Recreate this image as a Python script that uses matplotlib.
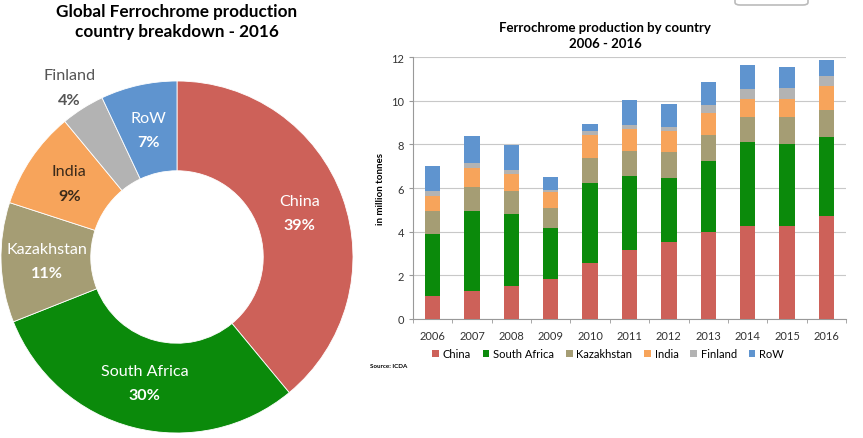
import matplotlib.pyplot as plt
import numpy as np
from matplotlib.patches import FancyBboxPatch

plt.rcParams['font.family'] = ['Lato', 'DejaVu Sans']

# pie data (2016 share, %)
pie_labels = ['China', 'South Africa', 'Kazakhstan', 'India', 'Finland', 'RoW']
pie_share = [39, 30, 11, 9, 4, 7]

# bar data (million tonnes)
years = ['2006', '2007', '2008', '2009', '2010', '2011', '2012', '2013', '2014', '2015', '2016']
china = [1.04, 1.30, 1.50, 1.83, 2.55, 3.15, 3.51, 4.00, 4.27, 4.24, 4.73]
south_africa = [2.85, 3.63, 3.31, 2.32, 3.69, 3.41, 2.96, 3.24, 3.82, 3.79, 3.59]
kazakhstan = [1.04, 1.12, 1.04, 0.95, 1.15, 1.13, 1.16, 1.17, 1.15, 1.21, 1.24]
india = [0.71, 0.87, 0.81, 0.70, 1.02, 1.00, 0.98, 1.04, 0.82, 0.82, 1.11]
finland = [0.20, 0.24, 0.18, 0.11, 0.19, 0.18, 0.18, 0.34, 0.46, 0.52, 0.44]
row = [1.15, 1.21, 1.11, 0.59, 0.35, 1.15, 1.07, 1.05, 1.11, 0.98, 0.75]

colors = ['#cd6159', '#0b8a0b', '#a59d74', '#f7a45b', '#b3b3b3', '#5f94cf']
label_colors = ['white', 'white', 'white', '#3a2a1a', '#555555', 'white']

W, H = 863, 439
fig = plt.figure(figsize=(W / 100, H / 100), dpi=100)

# ---- donut ----
cx, cy, r = 177, 258, 176
half = 182
axp = fig.add_axes([(cx - half) / W, (H - cy - half) / H, 2 * half / W, 2 * half / H])
wedges, _ = axp.pie(pie_share, colors=colors, startangle=90, counterclock=False,
                    wedgeprops=dict(width=0.51, edgecolor='white', linewidth=0.6))
axp.set_xlim(-half / r, half / r)
axp.set_ylim(-half / r, half / r)
axp.set_aspect('equal')
axp.axis('off')

for w, lab, pct, lc in zip(wedges, pie_labels, pie_share, label_colors):
    ang = np.deg2rad((w.theta1 + w.theta2) / 2)
    dist = 1.14 if lab == 'Finland' else 0.74
    x, y = dist * np.cos(ang), dist * np.sin(ang)
    axp.text(x, y + 0.07, lab, ha='center', va='center', color=lc, fontsize=11.6)
    axp.text(x, y - 0.07, '%d%%' % pct, ha='center', va='center', color=lc,
             fontsize=11.6, fontweight='bold')

fig.text(177 / W, 1 - 4 / H, 'Global Ferrochrome production\ncountry breakdown - 2016',
         ha='center', va='top', fontsize=12.3, fontweight='bold', linespacing=1.3)

# ---- stacked bars ----
ax = fig.add_axes([413 / W, 1 - 320 / H, (846 - 413) / W, (320 - 58) / H])
series = [china, south_africa, kazakhstan, india, finland, row]
x = np.arange(len(years))
bottom = np.zeros(len(years))
for vals, lab, c in zip(series, pie_labels, colors):
    ax.bar(x, vals, bottom=bottom, width=0.39, color=c, label=lab, zorder=3)
    bottom += np.array(vals)

ax.set_xlim(-0.5, len(years) - 0.5)
ax.set_ylim(0, 12)
ax.set_yticks(range(0, 13, 2))
ax.set_xticks(x)
ax.set_xticklabels(years)
ax.set_xticks(np.arange(-0.5, len(years), 1), minor=True)
ax.tick_params(axis='x', which='major', length=0, pad=8, labelsize=8, colors='#333333')
ax.tick_params(axis='x', which='minor', length=3, color='#999999')
ax.tick_params(axis='y', length=3, color='#999999', labelsize=8, labelcolor='#333333')
ax.grid(axis='y', color='#c8c8c8', linewidth=0.8, zorder=0)
for s in ['top', 'right']:
    ax.spines[s].set_visible(False)
for s in ['left', 'bottom']:
    ax.spines[s].set_color('#999999')
ax.set_ylabel('in million tonnes', fontsize=7, fontweight='bold', labelpad=4)

ax.legend(loc='upper center', bbox_to_anchor=(608 / W, 1 - 339 / H),
          bbox_transform=fig.transFigure, ncol=6, frameon=False, fontsize=8,
          handlelength=0.6, handleheight=0.6, handletextpad=0.35, columnspacing=1.05)

fig.text(605 / W, 1 - 22 / H, 'Ferrochrome production by country\n2006 - 2016',
         ha='center', va='top', fontsize=9.5, fontweight='bold', linespacing=1.45)
fig.text(370 / W, 1 - 367 / H, 'Source: ICDA', ha='left', va='center',
         fontsize=4.5, fontweight='bold')

# rounded box fragment at the top edge
box = FancyBboxPatch((735 / W, 1 - 6 / H), 73 / W, 40 / H,
                     boxstyle='round,pad=0,rounding_size=0.006', transform=fig.transFigure,
                     facecolor='white', edgecolor='#bbbbbb', linewidth=1.2)
fig.patches.append(box)

fig.savefig('out.png', dpi=100)
